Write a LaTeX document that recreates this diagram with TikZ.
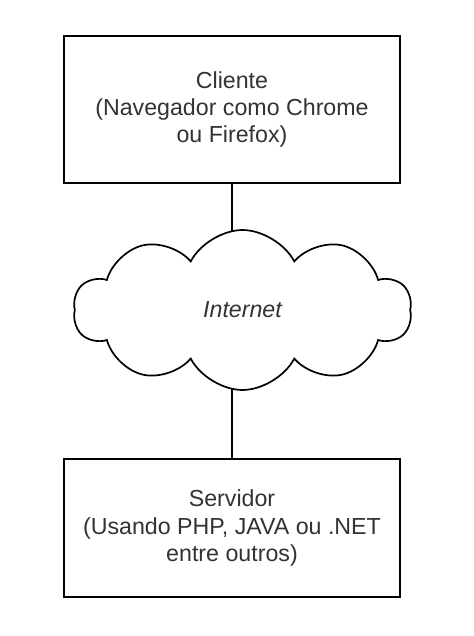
\documentclass[tikz,border=0pt]{standalone}
\usepackage{fontspec}
\setmainfont{Liberation Sans}
\usetikzlibrary{positioning,shapes.symbols,backgrounds}
\definecolor{ink}{HTML}{333333}

\tikzset{
  caixa/.style={draw=black, line width=0.85pt, fill=white, align=center,
    minimum width=168pt, text=ink, font=\fontsize{11.6}{13.6}\selectfont},
  nuvem/.style={cloud, cloud puffs=10, cloud puff arc=125, cloud ignores aspect,
    draw=black, line width=0.85pt, fill=white, minimum width=169pt,
    minimum height=80pt, text=ink, font=\fontsize{11.6}{13.6}\selectfont\itshape},
  ligacao/.style={draw=black, line width=0.85pt}
}

\begin{document}
\begin{tikzpicture}
  \useasboundingbox (0,0) rectangle (237pt,-318pt);

  \node[caixa, minimum height=73.5pt] (cliente) at (116pt,-54.75pt)
    {Cliente\\(Navegador como Chrome\\ou Firefox)};
  \node[nuvem] (internet) at (121.25pt,-155pt) {Internet};
  \node[caixa, minimum height=69pt] (servidor) at (116pt,-264pt)
    {Servidor\\(Usando PHP, JAVA ou .NET\\entre outros)};

  % ligacoes por tras da nuvem
  \begin{scope}[on background layer]
    \draw[ligacao] (cliente.south) -- (cliente.south |- internet.center);
    \draw[ligacao] (servidor.north) -- (servidor.north |- internet.center);
  \end{scope}
\end{tikzpicture}
\end{document}
